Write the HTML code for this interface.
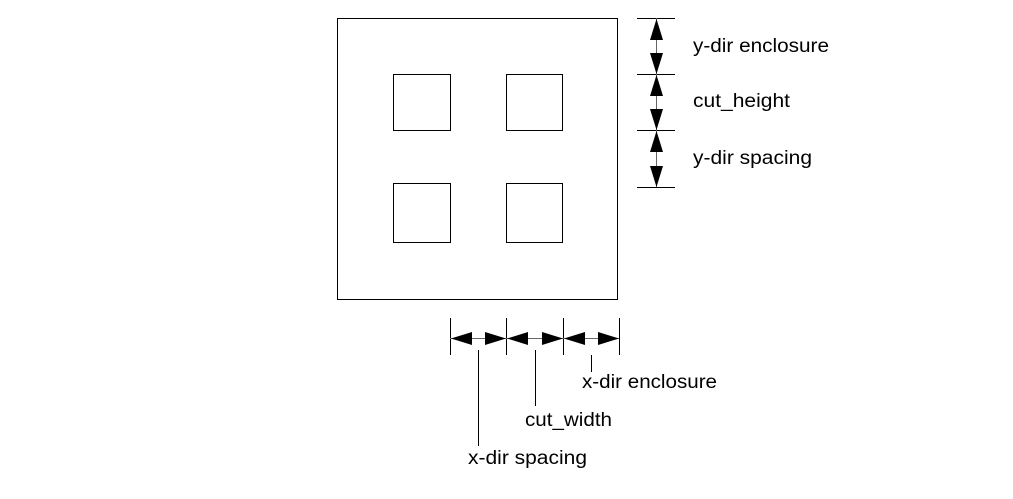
<!DOCTYPE html>
<html><head><style>body{margin:0;background:#fff}</style></head><body>
<svg width="1013" height="494" xmlns="http://www.w3.org/2000/svg" font-family="Liberation Sans, sans-serif" font-size="19" fill="#000">
<rect x="0" y="0" width="1013" height="494" fill="#fff"/>
<g fill="none" stroke="#000" stroke-width="1">
<rect x="337.5" y="18.5" width="280" height="281"/>
<rect x="393.5" y="74.5" width="57" height="56"/>
<rect x="506.5" y="74.5" width="56" height="56"/>
<rect x="393.5" y="183.5" width="57" height="59"/>
<rect x="506.5" y="183.5" width="56" height="59"/>
<line x1="637" y1="18.5" x2="675" y2="18.5"/>
<line x1="637" y1="74.5" x2="675" y2="74.5"/>
<line x1="637" y1="130.5" x2="675" y2="130.5"/>
<line x1="637" y1="187.5" x2="675" y2="187.5"/>
<line x1="656.5" y1="18" x2="656.5" y2="187" stroke="#666"/>
<line x1="450.5" y1="318" x2="450.5" y2="355"/>
<line x1="506.5" y1="318" x2="506.5" y2="355"/>
<line x1="563.5" y1="318" x2="563.5" y2="355"/>
<line x1="619.5" y1="318" x2="619.5" y2="355"/>
<line x1="450" y1="338.5" x2="619" y2="338.5" stroke="#666"/>
<line x1="478.5" y1="350" x2="478.5" y2="446"/>
<line x1="535.5" y1="350" x2="535.5" y2="406"/>
<line x1="591.5" y1="355" x2="591.5" y2="372"/>
</g>
<g fill="#000">
<polygon points="656.5,19 650,40 663,40"/><polygon points="656.5,74 650,53 663,53"/>
<polygon points="656.5,75 650,96 663,96"/><polygon points="656.5,130 650,109 663,109"/>
<polygon points="656.5,131 650,152 663,152"/><polygon points="656.5,187 650,166 663,166"/>
<polygon points="451,338.5 472,332 472,345"/><polygon points="506,338.5 485,332 485,345"/>
<polygon points="507,338.5 528,332 528,345"/><polygon points="563,338.5 542,332 542,345"/>
<polygon points="564,338.5 585,332 585,345"/><polygon points="619,338.5 598,332 598,345"/>
</g>
<text x="693" y="52" textLength="136" lengthAdjust="spacingAndGlyphs">y-dir enclosure</text>
<text x="693" y="107" textLength="97" lengthAdjust="spacingAndGlyphs">cut_height</text>
<text x="693" y="164" textLength="119" lengthAdjust="spacingAndGlyphs">y-dir spacing</text>
<text x="582" y="388" textLength="135" lengthAdjust="spacingAndGlyphs">x-dir enclosure</text>
<text x="525" y="426" textLength="87" lengthAdjust="spacingAndGlyphs">cut_width</text>
<text x="468" y="464" textLength="119" lengthAdjust="spacingAndGlyphs">x-dir spacing</text>
</svg>
</body></html>
